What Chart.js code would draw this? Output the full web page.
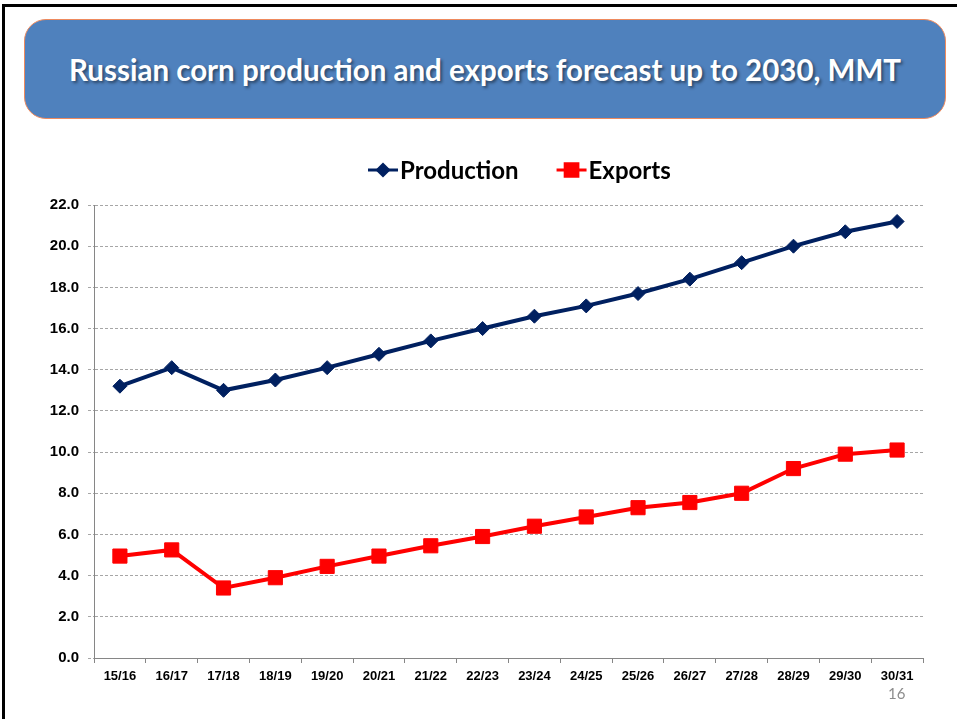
<!DOCTYPE html>
<html>
<head>
<meta charset="utf-8">
<title>Russian corn production and exports forecast up to 2030, MMT</title>
<script src="https://cdn.jsdelivr.net/npm/chart.js@4.4.1/dist/chart.umd.min.js"></script>
<style>
  html, body { margin: 0; padding: 0; background: #fff; }
  body { width: 957px; height: 719px; position: relative; overflow: hidden; }
  #frame {
    position: absolute; left: 2px; top: 4px; right: 0; bottom: 0;
    border-top: 3px solid #000; border-left: 3px solid #000;
  }
  #title_box {
    position: absolute; left: 24px; top: 19px; width: 922px; height: 100px;
    box-sizing: border-box; background: #4f81bd; border: 1px solid #ee8a5e;
    border-radius: 22px; display: flex; align-items: center; justify-content: center;
    color: #fff; font-family: Lato, 'Open Sans', sans-serif; font-weight: bold; font-size: 29.5px;
    text-shadow: 2px 2px 3px rgba(0, 0, 0, 0.45); z-index: 2;
  }
  #slide_chart { position: absolute; left: 0; top: 0; z-index: 1; }
  #page_num {
    position: absolute; left: 888px; top: 684px; color: #8c8c8c;
    font-family: Lato, sans-serif; font-size: 15px; z-index: 2;
  }
</style>
</head>
<body>
<div id="frame"></div>
<div id="title_box">Russian corn production and exports forecast up to 2030, MMT</div>
<canvas id="slide_chart" width="957" height="719"></canvas>
<div id="page_num">16</div>
<script>
'use strict';

const seasons = ['15/16', '16/17', '17/18', '18/19', '19/20', '20/21', '21/22', '22/23',
  '23/24', '24/25', '25/26', '26/27', '27/28', '28/29', '29/30', '30/31'];

const productionValues = [13.2, 14.1, 13.0, 13.5, 14.1, 14.75, 15.4, 16.0,
  16.6, 17.1, 17.7, 18.4, 19.2, 20.0, 20.7, 21.2];

const exportValues = [4.95, 5.25, 3.4, 3.9, 4.45, 4.95, 5.45, 5.9,
  6.4, 6.85, 7.3, 7.55, 8.0, 9.2, 9.9, 10.1];

const yTickLabels = ['0.0', '2.0', '4.0', '6.0', '8.0', '10.0', '12.0', '14.0', '16.0', '18.0', '20.0', '22.0'];

const tickFamily = "'Liberation Sans Narrow', 'Arial Narrow', 'Liberation Sans', Arial, sans-serif";


// legend drawn like the office one: short line with the marker on it
const slideLegend = {
  id: 'slideLegend',
  afterDraw(chart) {
    const ctx = chart.ctx;
    const y = 170;
    let x = 368;
    ctx.save();
    ctx.font = 'bold 24px Lato, sans-serif';
    ctx.textBaseline = 'middle';
    for (let ds of chart.data.datasets) {
      ctx.strokeStyle = ds.borderColor;
      ctx.lineWidth = 3;
      ctx.beginPath();
      ctx.moveTo(x, y);
      ctx.lineTo(x + 30, y);
      ctx.stroke();
      ctx.fillStyle = ds.backgroundColor;
      Chart.helpers.drawPoint(ctx, {
        pointStyle: ds.pointStyle,
        radius: ds.legendRadius,
        rotation: 0,
        borderWidth: 1
      }, x + 15, y);
      ctx.fillStyle = '#000';
      ctx.fillText(ds.label, x + 32, y + 1);
      x += 32 + ctx.measureText(ds.label).width + 38;
    }
    ctx.restore();
  }
};


const ctx = document.getElementById('slide_chart').getContext('2d');
const slideChart = new Chart(ctx, {
  type: 'line',
  data: {
    labels: seasons,
    datasets: [{
      label: 'Production',
      data: productionValues,
      borderColor: '#002060',
      backgroundColor: '#002060',
      borderWidth: 4,
      pointStyle: 'rectRot',
      pointRadius: 7,
      pointBorderWidth: 1,
      legendRadius: 5.5,
      tension: 0
    }, {
      label: 'Exports',
      data: exportValues,
      borderColor: '#ff0000',
      backgroundColor: '#ff0000',
      borderWidth: 4,
      pointStyle: 'rect',
      pointRadius: 10,
      pointBorderWidth: 1,
      legendRadius: 9,
      tension: 0
    }]
  },
  options: {
    responsive: false,
    animation: false,
    layout: {
      padding: { top: 205, right: 34, left: 0, bottom: 0 }
    },
    plugins: {
      legend: { display: false },
      tooltip: { enabled: false }
    },
    scales: {
      x: {
        offset: true,
        grid: {
          offset: true,
          drawOnChartArea: false,
          color: '#868686',
          tickLength: 5
        },
        border: { color: '#868686', width: 1 },
        ticks: {
          color: '#000',
          font: { family: tickFamily, weight: 'bold', size: 13 },
          padding: 6,
          maxRotation: 0,
          autoSkip: false
        },
        afterFit: function(scale) { scale.height = 61; }
      },
      y: {
        min: 0,
        max: 22,
        grid: {
          color: '#a6a6a6',
          tickLength: 6,
          tickBorderDash: [3, 2]
        },
        border: { color: '#868686', width: 1, dash: [3, 2] },
        ticks: {
          stepSize: 2,
          color: '#000',
          font: { family: tickFamily, weight: 'bold', size: 15 },
          padding: 9,
          callback: function(value) { return yTickLabels[value / 2]; }
        },
        afterFit: function(scale) { scale.width = 94; }
      }
    }
  },
  plugins: [slideLegend]
});
</script>
</body>
</html>
